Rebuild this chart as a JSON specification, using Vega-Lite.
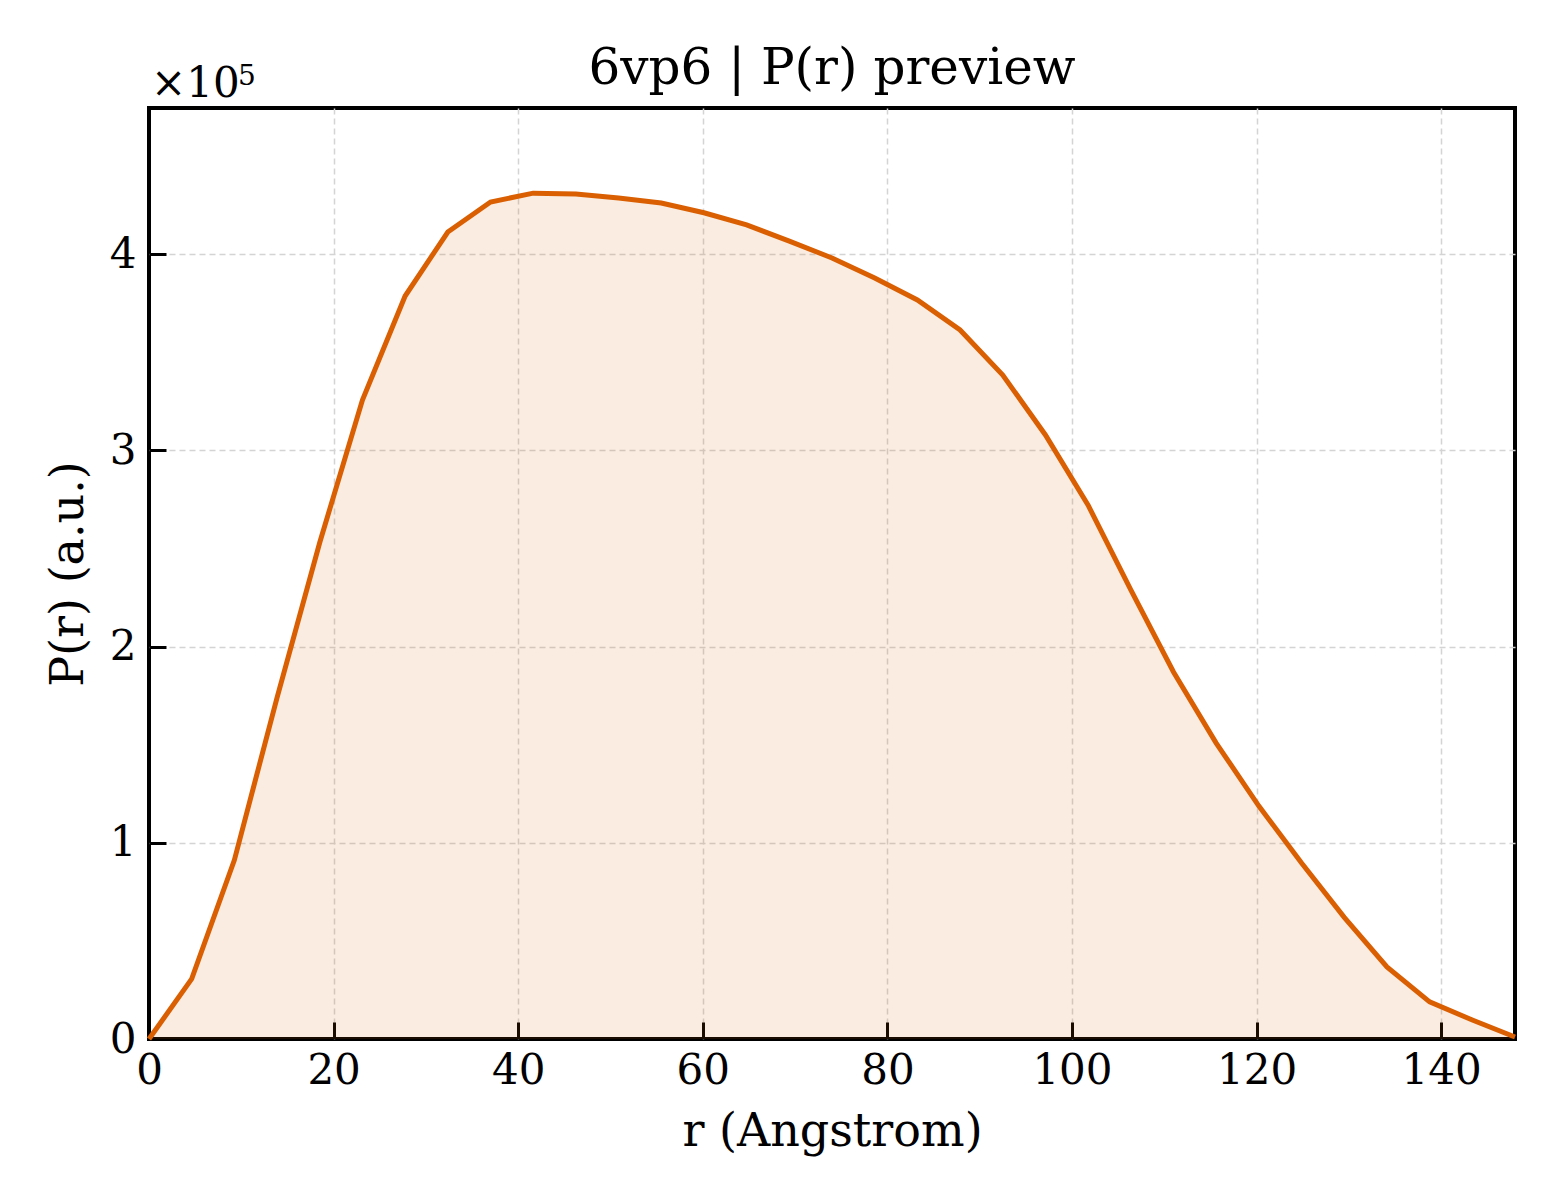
{
  "$schema": "https://vega.github.io/schema/vega-lite/v6.json",
  "width": 1366,
  "height": 931,
  "autosize": "none",
  "padding": {"left": 149, "top": 108, "right": 45, "bottom": 161},
  "background": "white",
  "title": {
    "text": "6vp6 | P(r) preview",
    "anchor": "middle",
    "font": "DejaVu Serif",
    "fontSize": 50,
    "fontWeight": "normal",
    "color": "black",
    "offset": -31
  },
  "config": {
    "view": {"stroke": "black", "strokeWidth": 4},
    "axis": {
      "labelFont": "DejaVu Serif",
      "labelFontSize": 42,
      "labelColor": "black",
      "titleFont": "DejaVu Serif",
      "titleFontSize": 46,
      "titleFontWeight": "normal",
      "titleColor": "black",
      "domain": false,
      "tickColor": "black",
      "tickWidth": 3,
      "tickSize": -17,
      "grid": true,
      "gridColor": "#d4d4d4",
      "gridDash": [6, 4],
      "gridWidth": 1.5
    }
  },
  "data": {
    "values": [
      {"r": 0, "P": 0},
      {"r": 4.625, "P": 30600},
      {"r": 9.25, "P": 91200},
      {"r": 13.875, "P": 174000},
      {"r": 18.5, "P": 253000},
      {"r": 23.125, "P": 325600},
      {"r": 27.75, "P": 378600},
      {"r": 32.375, "P": 411200},
      {"r": 37, "P": 426500},
      {"r": 41.625, "P": 431000},
      {"r": 46.25, "P": 430600},
      {"r": 50.875, "P": 428500},
      {"r": 55.5, "P": 426000},
      {"r": 60.125, "P": 421000},
      {"r": 64.75, "P": 414800},
      {"r": 69.375, "P": 406600},
      {"r": 74, "P": 398000},
      {"r": 78.625, "P": 387800},
      {"r": 83.25, "P": 376600},
      {"r": 87.875, "P": 361300},
      {"r": 92.5, "P": 338300},
      {"r": 97.125, "P": 307800},
      {"r": 101.75, "P": 272000},
      {"r": 106.375, "P": 228800},
      {"r": 111, "P": 187000},
      {"r": 115.625, "P": 150800},
      {"r": 120.25, "P": 118700},
      {"r": 124.875, "P": 89700},
      {"r": 129.5, "P": 62000},
      {"r": 134.125, "P": 36700},
      {"r": 138.75, "P": 18900},
      {"r": 143.375, "P": 9700},
      {"r": 148, "P": 1000}
    ]
  },
  "encoding": {
    "x": {
      "field": "r",
      "type": "quantitative",
      "scale": {"domain": [0, 148], "nice": false, "zero": false},
      "axis": {
        "title": "r (Angstrom)",
        "values": [0, 20, 40, 60, 80, 100, 120, 140],
        "labelPadding": 28,
        "titlePadding": 18,
        "labelFlush": false,
        "gridOpacity": {"condition": {"test": "datum.value === 0", "value": 0}, "value": 1}
      }
    },
    "y": {
      "field": "P",
      "type": "quantitative",
      "scale": {"domain": [0, 474400], "nice": false},
      "axis": {
        "title": "P(r) (a.u.)",
        "values": [0, 100000, 200000, 300000, 400000],
        "labelExpr": "datum.value / 100000",
        "labelPadding": 30,
        "titlePadding": 17,
        "labelFlush": false,
        "gridOpacity": {"condition": {"test": "datum.value === 0", "value": 0}, "value": 1}
      }
    }
  },
  "layer": [
    {
      "mark": {"type": "area", "color": "#d95f02", "opacity": 0.12}
    },
    {
      "mark": {"type": "line", "color": "#d95f02", "strokeWidth": 5}
    },
    {
      "data": {"values": [{"r": 0, "P": 474400, "label": "×10"}]},
      "mark": {
        "type": "text",
        "font": "DejaVu Serif",
        "fontSize": 42,
        "align": "left",
        "baseline": "alphabetic",
        "dx": 2,
        "dy": -11,
        "color": "black",
        "clip": false
      },
      "encoding": {
        "x": {"field": "r", "type": "quantitative"},
        "y": {"field": "P", "type": "quantitative"},
        "text": {"field": "label", "type": "nominal"}
      }
    },
    {
      "data": {"values": [{"r": 0, "P": 474400, "label": "5"}]},
      "mark": {
        "type": "text",
        "font": "DejaVu Serif",
        "fontSize": 28,
        "align": "left",
        "baseline": "alphabetic",
        "dx": 89,
        "dy": -23,
        "color": "black",
        "clip": false
      },
      "encoding": {
        "x": {"field": "r", "type": "quantitative"},
        "y": {"field": "P", "type": "quantitative"},
        "text": {"field": "label", "type": "nominal"}
      }
    }
  ]
}
